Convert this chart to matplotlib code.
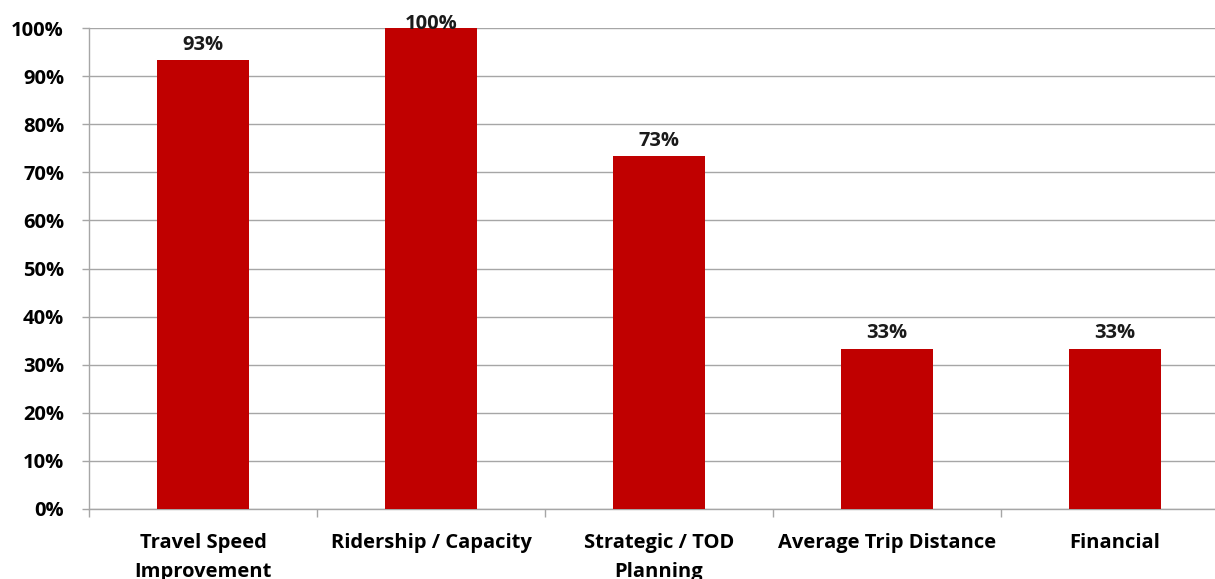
import matplotlib.pyplot as plt
from matplotlib.ticker import FixedLocator

categories = ["Travel Speed\nImprovement", "Ridership / Capacity",
              "Strategic / TOD\nPlanning", "Average Trip Distance", "Financial"]
shares = [93.3, 100.0, 73.3, 33.3, 33.3]
y_ticks = list(range(0, 101, 10))

bar_color = "#C00000"
grid_color = "#A6A6A6"
font_size = 14.5

plt.rcParams["font.family"] = ["Open Sans", "DejaVu Sans"]
plt.rcParams["font.weight"] = "bold"

fig = plt.figure(figsize=(12.15, 5.79), dpi=100)
# plot area runs past the right edge of the figure
ax = fig.add_axes([89 / 1215, 70 / 579, 1140 / 1215, 481 / 579])

x = range(len(categories))
ax.bar(x, shares, width=0.4, color=bar_color, zorder=3)

for xi, v in zip(x, shares):
    # a label on a full bar gets pushed down so it stays on the canvas
    dy = 4 if v < 99 else -4.5
    ax.annotate(f"{v:.0f}%", (xi, v), xytext=(0, dy), textcoords="offset points",
                ha="center", va="bottom", fontsize=font_size, fontweight="bold",
                color="#1a1a1a", zorder=4, annotation_clip=False)

ax.set_xlim(-0.5, len(categories) - 0.5)
ax.set_ylim(0, 100)
ax.set_yticks(y_ticks)
ax.set_yticklabels([f"{t}%" for t in y_ticks], fontsize=font_size, fontweight="bold")
ax.yaxis.grid(True, color=grid_color, linewidth=1.0, zorder=0)

# category labels centred under bars, tick marks on the boundaries
ax.xaxis.set_major_locator(FixedLocator([i - 0.5 for i in range(len(categories) + 1)]))
ax.set_xticklabels([])
ax.xaxis.set_minor_locator(FixedLocator(list(x)))
ax.set_xticklabels(categories, minor=True, fontsize=font_size, fontweight="bold",
                   linespacing=1.6, va="top")
ax.tick_params(axis="x", which="minor", length=0, pad=17)
ax.tick_params(axis="x", which="major", length=5.5, color=grid_color, width=1)
ax.tick_params(axis="y", length=5, color=grid_color, width=1, pad=13)

for side in ["top", "right"]:
    ax.spines[side].set_visible(False)
for side in ["left", "bottom"]:
    ax.spines[side].set_color(grid_color)
    ax.spines[side].set_linewidth(1.0)

fig.savefig("out.png", dpi=100)
